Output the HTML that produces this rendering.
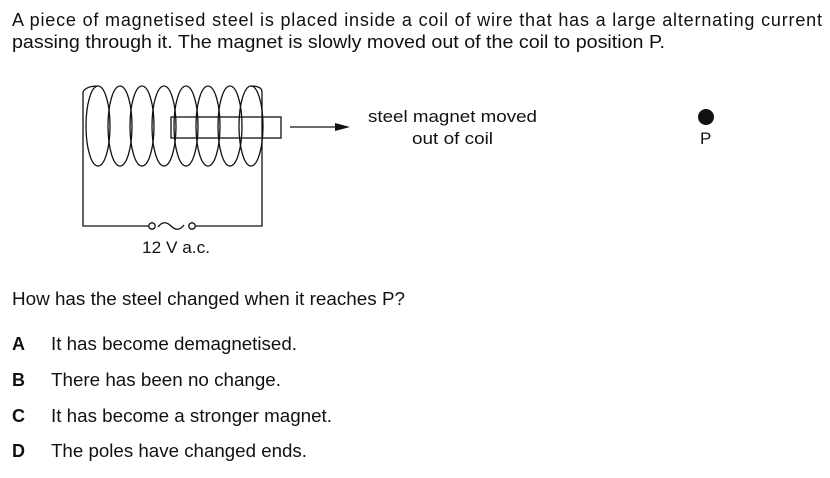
<!DOCTYPE html>
<html><head><meta charset="utf-8"><style>
html,body{margin:0;padding:0;background:#fff;}
svg{display:block;}
text{font-family:"Liberation Sans",Arial,sans-serif;fill:#111;}
</style></head><body>
<svg width="830" height="478" viewBox="0 0 830 478" xmlns="http://www.w3.org/2000/svg">
<text x="12" y="26" font-size="18" textLength="810" lengthAdjust="spacing">A piece of magnetised steel is placed inside a coil of wire that has a large alternating current</text>
<text x="12" y="48" font-size="18" textLength="653" lengthAdjust="spacingAndGlyphs">passing through it. The magnet is slowly moved out of the coil to position P.</text>
<g fill="none" stroke="#111" stroke-width="1.3">
<path d="M83 92 V226 H149 M195 226 H262 V92"/>
<ellipse cx="98" cy="126" rx="12" ry="40"/>
<ellipse cx="120" cy="126" rx="12" ry="40"/>
<ellipse cx="142" cy="126" rx="12" ry="40"/>
<ellipse cx="164" cy="126" rx="12" ry="40"/>
<ellipse cx="186" cy="126" rx="12" ry="40"/>
<ellipse cx="208" cy="126" rx="12" ry="40"/>
<ellipse cx="230" cy="126" rx="12" ry="40"/>
<ellipse cx="251" cy="126" rx="12" ry="40"/>
<path d="M83 92 Q86 86 98 86 M251 86 Q262 86 262 92"/>
<rect x="171" y="117" width="110" height="21"/>
<line x1="290" y1="127" x2="335" y2="127"/>
<circle cx="152" cy="226" r="3.2"/>
<circle cx="192" cy="226" r="3.2"/>
<path d="M158 227 Q164 219 171 226 T184 225"/>
</g>
<polygon points="335,123 350,127 335,131" fill="#111"/>
<text x="142" y="253" font-size="17" textLength="68" lengthAdjust="spacingAndGlyphs">12 V a.c.</text>
<text x="368" y="122" font-size="17" textLength="169" lengthAdjust="spacingAndGlyphs">steel magnet moved</text>
<text x="412" y="144" font-size="17" textLength="81" lengthAdjust="spacingAndGlyphs">out of coil</text>
<circle cx="706" cy="117" r="8" fill="#111"/>
<text x="700" y="144" font-size="17">P</text>
<text x="12" y="305" font-size="18" textLength="393" lengthAdjust="spacingAndGlyphs">How has the steel changed when it reaches P?</text>
<g font-size="18">
<text x="12" y="350" font-weight="bold">A</text><text x="51" y="350" textLength="246" lengthAdjust="spacingAndGlyphs">It has become demagnetised.</text>
<text x="12" y="386" font-weight="bold">B</text><text x="51" y="386" textLength="230" lengthAdjust="spacingAndGlyphs">There has been no change.</text>
<text x="12" y="422" font-weight="bold">C</text><text x="51" y="422" textLength="281" lengthAdjust="spacingAndGlyphs">It has become a stronger magnet.</text>
<text x="12" y="457" font-weight="bold">D</text><text x="51" y="457" textLength="256" lengthAdjust="spacingAndGlyphs">The poles have changed ends.</text>
</g>
</svg>
</body></html>
